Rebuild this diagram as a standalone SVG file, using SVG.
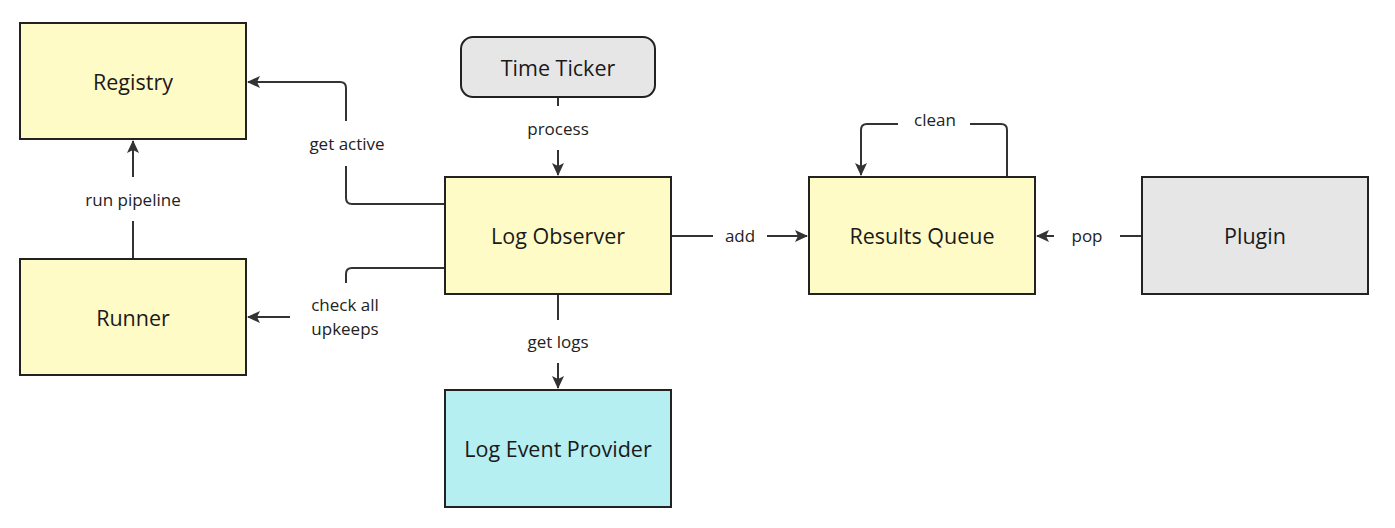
<svg xmlns="http://www.w3.org/2000/svg" width="1395" height="528" viewBox="0 0 1395 528">
<style>
.node{stroke:#222;stroke-width:2}
.y{fill:#fffbc7}
.g{fill:#e6e6e6}
.c{fill:#b5eff1}
.nt{font-family:"Open Sans","Liberation Sans",sans-serif;font-size:21.5px;fill:#1a1a1a;text-anchor:middle;dominant-baseline:central}
.et{font-family:"Open Sans","Liberation Sans",sans-serif;font-size:17px;fill:#222;text-anchor:middle;dominant-baseline:central}
.ln{fill:none;stroke:#333;stroke-width:2}
.bg{fill:#fff}
</style>
<defs>
<marker id="ah" markerWidth="14" markerHeight="14" refX="12" refY="7" orient="auto" markerUnits="userSpaceOnUse">
<path d="M0,1 L13,7 L0,13 L3,7 Z" fill="#333"/>
</marker>
</defs>
<rect width="1395" height="528" fill="#fff"/>
<g id="connectors">
<path class="ln" d="M445,204 H352 Q346,204 346,198 V88 Q346,82 340,82 H248" marker-end="url(#ah)"/>
<path class="ln" d="M445,268 H352 Q346,268 346,274 V317 H248" marker-end="url(#ah)"/>
<path class="ln" d="M133,258 V141" marker-end="url(#ah)"/>
<path class="ln" d="M558,97 V175" marker-end="url(#ah)"/>
<path class="ln" d="M558,294 V388" marker-end="url(#ah)"/>
<path class="ln" d="M671,236 H807" marker-end="url(#ah)"/>
<path class="ln" d="M1142,236 H1037" marker-end="url(#ah)"/>
<path class="ln" d="M1007,177 V130 Q1007,124 1001,124 H867 Q861,124 861,130 V175" marker-end="url(#ah)"/>
<rect class="bg" x="300" y="121" width="94" height="45"/>
<text class="et" x="347" y="143">get active</text>
<rect class="bg" x="290" y="283" width="112" height="62"/>
<text class="et" x="345" y="304">check all</text>
<text class="et" x="345" y="328">upkeeps</text>
<rect class="bg" x="76" y="177" width="114" height="44"/>
<text class="et" x="133" y="199">run pipeline</text>
<rect class="bg" x="518" y="106" width="80" height="44"/>
<text class="et" x="558" y="128">process</text>
<rect class="bg" x="518" y="320" width="80" height="43"/>
<text class="et" x="558" y="341">get logs</text>
<rect class="bg" x="713" y="222" width="54" height="28"/>
<text class="et" x="740" y="235">add</text>
<rect class="bg" x="1054" y="222" width="66" height="28"/>
<text class="et" x="1087" y="235">pop</text>
<rect class="bg" x="898" y="108" width="72" height="28"/>
<text class="et" x="935" y="119">clean</text>
</g>
<g id="registry"><rect class="node y" x="20" y="23" width="226" height="116"/><text class="nt" x="133" y="81">Registry</text></g>
<g id="runner"><rect class="node y" x="20" y="259" width="226" height="116"/><text class="nt" x="133" y="317">Runner</text></g>
<g id="time-ticker"><rect class="node g" x="461" y="37" width="194" height="60" rx="12"/><text class="nt" x="558" y="67">Time Ticker</text></g>
<g id="log-observer"><rect class="node y" x="445" y="177" width="226" height="117"/><text class="nt" x="558" y="235">Log Observer</text></g>
<g id="log-event-provider"><rect class="node c" x="445" y="390" width="226" height="117"/><text class="nt" x="558" y="448">Log Event Provider</text></g>
<g id="results-queue"><rect class="node y" x="809" y="177" width="226" height="117"/><text class="nt" x="922" y="235">Results Queue</text></g>
<g id="plugin"><rect class="node g" x="1142" y="177" width="226" height="117"/><text class="nt" x="1255" y="235">Plugin</text></g>
</svg>
